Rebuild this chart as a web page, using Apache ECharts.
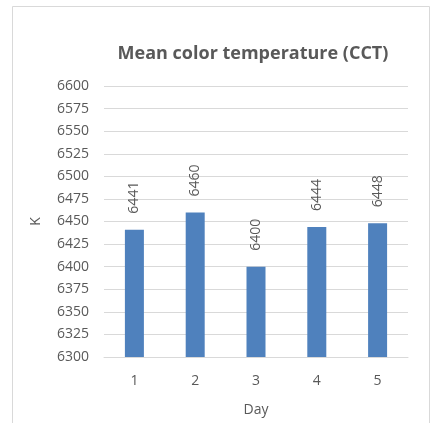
<!DOCTYPE html>
<html>
<head>
<meta charset="utf-8">
<script src="https://cdn.jsdelivr.net/npm/echarts@6/dist/echarts.min.js"></script>
<style>
  html, body { margin: 0; padding: 0; background: #ffffff; }
  #chart { width: 434px; height: 423px; }
</style>
</head>
<body>
<div id="chart"></div>
<script>
// Daily mean correlated colour temperature (K)
const days = ['1', '2', '3', '4', '5'];
const meanCCT = [6441, 6460, 6400, 6444, 6448];
const yTicks = { min: 6300, max: 6600, step: 25 };

const textColor = '#595959';
const gridColor = '#d9d9d9';
const barColor = '#4f81bd';
const font = 'Open Sans, Liberation Sans, sans-serif';

const chart = echarts.init(document.getElementById('chart'), null, { renderer: 'canvas' });
chart.setOption({
  backgroundColor: '#ffffff',
  animation: false,
  graphic: [{
    type: 'rect',
    shape: { x: 12.5, y: 6.5, width: 417, height: 430 },
    style: { fill: 'none', stroke: gridColor, lineWidth: 1 },
    silent: true
  }],
  title: {
    text: 'Mean color temperature (CCT)',
    left: 248,
    top: 40,
    textAlign: 'center',
    textStyle: { color: textColor, fontSize: 18, fontWeight: 'bold', fontFamily: font }
  },
  grid: { left: 104, right: 26, top: 86, bottom: 66 },
  xAxis: {
    type: 'category',
    data: days,
    name: 'Day',
    nameLocation: 'middle',
    nameGap: 46,
    nameTextStyle: { color: textColor, fontSize: 14, fontFamily: font },
    axisLine: { show: true, lineStyle: { color: gridColor, width: 1 } },
    axisTick: { show: false },
    axisLabel: { color: textColor, fontSize: 14, fontFamily: font, margin: 17 }
  },
  yAxis: {
    type: 'value',
    min: yTicks.min,
    max: yTicks.max,
    interval: yTicks.step,
    name: 'K',
    nameLocation: 'middle',
    nameGap: 61,
    nameTextStyle: { color: textColor, fontSize: 14, fontFamily: font },
    axisLine: { show: false },
    axisTick: { show: false },
    axisLabel: {
      color: textColor, fontSize: 14, fontFamily: font, margin: 15,
      formatter: (v) => String(v)
    },
    splitLine: { lineStyle: { color: gridColor, width: 1 } }
  },
  series: [{
    type: 'bar',
    data: meanCCT,
    barWidth: 19,
    itemStyle: { color: barColor },
    label: {
      show: true,
      position: 'top',
      distance: 16,
      rotate: 90,
      align: 'left',
      verticalAlign: 'middle',
      color: textColor,
      fontSize: 14,
      fontFamily: font,
      formatter: (p) => String(p.value)
    }
  }]
});
</script>
</body>
</html>
